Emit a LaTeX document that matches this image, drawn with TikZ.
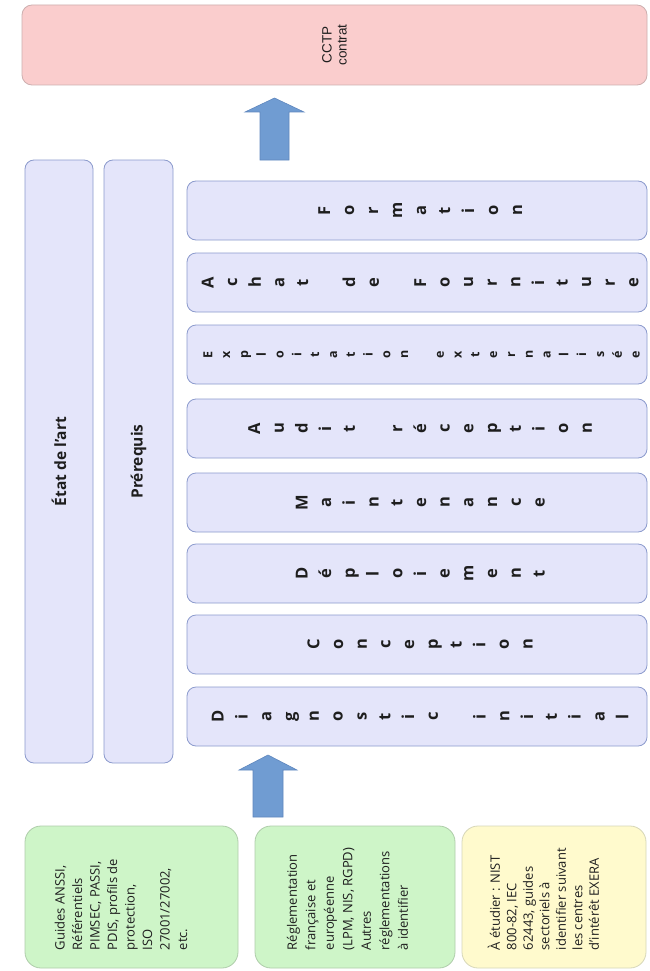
\documentclass[tikz,border=0pt]{standalone}
\usepackage{fontspec}
\setmainfont{Open Sans}
\newfontfamily\arialf{Liberation Sans}
\definecolor{pinkfill}{RGB}{250,205,205}
\definecolor{pinkdraw}{RGB}{205,175,175}
\definecolor{lavfill}{RGB}{228,229,250}
\definecolor{lavdraw}{RGB}{140,155,205}
\definecolor{greenfill}{RGB}{206,245,200}
\definecolor{greendraw}{RGB}{175,205,170}
\definecolor{yelfill}{RGB}{255,250,205}
\definecolor{yeldraw}{RGB}{215,215,185}
\definecolor{arrfill}{RGB}{112,156,210}
\definecolor{arrdraw}{RGB}{95,135,190}
\definecolor{txt}{RGB}{30,30,30}
\tikzset{
  lavbox/.style={draw=lavdraw, fill=lavfill, line width=0.8pt, rounded corners=9pt, inner sep=0pt},
  pinkbox/.style={draw=pinkdraw, fill=pinkfill, line width=0.8pt, rounded corners=10pt, inner sep=0pt},
  greenbox/.style={draw=greendraw, fill=greenfill, line width=0.8pt, rounded corners=16pt, inner sep=0pt},
  yelbox/.style={draw=yeldraw, fill=yelfill, line width=0.8pt, rounded corners=16pt, inner sep=0pt},
  fatarrow/.style={draw=arrdraw, fill=arrfill, line width=0.6pt},
  letter/.style={rotate=90, anchor=base, inner sep=0pt, text=txt, font=\bfseries\fontsize{16.5}{18}\selectfont},
  smallletter/.style={letter, font=\bfseries\fontsize{12.5}{14}\selectfont},
  boxtext/.style={rotate=90, anchor=north west, align=left, inner sep=0pt, text=txt},
  coltext/.style={rotate=90, inner sep=0pt, text=txt, font=\bfseries\fontsize{15.5}{19}\selectfont}
}
% #1 name prefix, #2 y centre, #3 number of slots, #4 pitch, #5 style, #6 letters
\newcommand\stripword[6]{%
  \foreach \ch [count=\i] in {#6} {%
    \node[#5] (#1-\i) at ({426+(\i-(#3+1)/2)*#4}, #2) {\ch};
  }%
}
\begin{document}
\begin{tikzpicture}[x=1pt, y=-1pt]
\useasboundingbox (0,0) rectangle (649,971);
\fill[white] (0,0) rectangle (649,971);

% top box
\node[pinkbox, minimum width=625pt, minimum height=80pt] (cctp) at (334.5,45) {};
\node[rotate=90, align=center, inner sep=0pt, font=\arialf\fontsize{13.5}{15}\selectfont, text=txt] (cctpt) at (cctp.center) {CCTP\\contrat};

% columns
\node[lavbox, minimum width=68pt, minimum height=603pt] (etat) at (59,461.5) {};
\node[coltext] (etatt) at (etat.center) {État de l’art};
\node[lavbox, minimum width=69pt, minimum height=603pt] (prereq) at (138.5,461.5) {};
\node[coltext] (prereqt) at (prereq.center) {Prérequis};

% strips
\node[lavbox, minimum width=460pt, minimum height=59pt] (form) at (417,210.5) {};
\node[lavbox, minimum width=460pt, minimum height=59pt] (achat) at (417,282.5) {};
\node[lavbox, minimum width=460pt, minimum height=59pt] (expl) at (417,354.5) {};
\node[lavbox, minimum width=460pt, minimum height=59pt] (audit) at (417,428.5) {};
\node[lavbox, minimum width=460pt, minimum height=59pt] (maint) at (417,502.5) {};
\node[lavbox, minimum width=460pt, minimum height=59pt] (depl) at (417,573.5) {};
\node[lavbox, minimum width=460pt, minimum height=59pt] (conc) at (417,644.5) {};
\node[lavbox, minimum width=460pt, minimum height=59pt] (diag) at (417,716.5) {};

\stripword{fo}{210.5}{9}{24}{letter}{F,o,r,m,a,t,i,o,n}
\stripword{ac}{282.5}{19}{23.6}{letter}{A,c,h,a,t,{},d,e,{},F,o,u,r,n,i,t,u,r,e}
\stripword{ex}{354.5}{25}{17.8}{smallletter}{E,x,p,l,o,i,t,a,t,i,o,n,{},e,x,t,e,r,n,a,l,i,s,é,e}
\stripword{au}{428.5}{15}{23.7}{letter}{A,u,d,i,t,{},r,é,c,e,p,t,i,o,n}
\stripword{ma}{502.5}{11}{23.7}{letter}{M,a,i,n,t,e,n,a,n,c,e}
\stripword{de}{573.5}{11}{23.7}{letter}{D,é,p,l,o,i,e,m,e,n,t}
\stripword{co}{644.5}{10}{23.7}{letter}{C,o,n,c,e,p,t,i,o,n}
\stripword{di}{716.5}{18}{23.8}{letter}{D,i,a,g,n,o,s,t,i,c,{},i,n,i,t,i,a,l}

% arrows
\draw[fatarrow] (260,160) -- (260,112) -- (245,112) -- (274.5,98) -- (304,112) -- (289,112) -- (289,160) -- cycle;
\draw[fatarrow] (253,817) -- (253,770) -- (239,770) -- (268,755) -- (297,770) -- (283,770) -- (283,817) -- cycle;

% bottom boxes
\node[greenbox, minimum width=213pt, minimum height=142pt] (b1) at (131.5,897) {};
\node[greenbox, minimum width=200pt, minimum height=142pt] (b2) at (355,897) {};
\node[yelbox, minimum width=184pt, minimum height=142pt] (b3) at (554,897) {};

\node[boxtext, font=\fontsize{13}{17.5}\selectfont] (b1t) at ([xshift=30pt, yshift=18pt]b1.south west) {Guides ANSSI,\\Référentiels\\PIMSEC, PASSI,\\PDIS, profils de\\protection,\\ISO\\27001/27002,\\etc.};
\node[boxtext, font=\fontsize{13}{18.5}\selectfont] (b2t) at ([xshift=32pt, yshift=18pt]b2.south west) {Réglementation\\française et\\européenne\\(LPM, NIS, RGPD)\\Autres\\réglementations\\à identifier};
\node[boxtext, font=\fontsize{13}{16.5}\selectfont] (b3t) at ([xshift=26pt, yshift=18pt]b3.south west) {À étudier : NIST\\800-82, IEC\\62443, guides\\sectoriels à\\identifier suivant\\les centres\\d’intérêt EXERA};
\end{tikzpicture}
\end{document}
